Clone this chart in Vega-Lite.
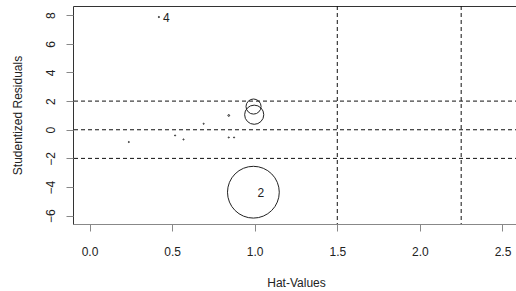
{
  "$schema": "https://vega.github.io/schema/vega-lite/v6.json",
  "width": 446,
  "height": 218,
  "autosize": "none",
  "padding": {"left": 73, "top": 6, "right": 0, "bottom": 67},
  "background": "white",
  "config": {
    "font": "Liberation Sans",
    "view": {"stroke": "#333", "strokeWidth": 1},
    "axis": {
      "grid": false,
      "labelFont": "Liberation Sans",
      "titleFont": "Liberation Sans",
      "labelFontSize": 12,
      "titleFontSize": 12,
      "titleFontWeight": "normal",
      "labelColor": "#222",
      "titleColor": "#222",
      "tickColor": "#888",
      "domainColor": "#888",
      "tickSize": 7,
      "labelOverlap": false,
      "zindex": 1
    }
  },
  "datasets": {
    "pts": [
      {"obs": "", "hat": 0.238, "rstudent": -0.857, "cookd": 0.0012},
      {"obs": "", "hat": 0.518, "rstudent": -0.397, "cookd": 0.0012},
      {"obs": "", "hat": 0.569, "rstudent": -0.676, "cookd": 0.0012},
      {"obs": "", "hat": 0.691, "rstudent": 0.418, "cookd": 0.0012},
      {"obs": "", "hat": 0.843, "rstudent": 0.997, "cookd": 0.003},
      {"obs": "", "hat": 0.843, "rstudent": -0.537, "cookd": 0.0012},
      {"obs": "", "hat": 0.875, "rstudent": -0.537, "cookd": 0.0012},
      {"obs": "4", "hat": 0.42, "rstudent": 7.87, "cookd": 0.0015},
      {"obs": "", "hat": 0.993, "rstudent": 1.62, "cookd": 0.227},
      {"obs": "", "hat": 0.997, "rstudent": 1.05, "cookd": 0.366},
      {"obs": "2", "hat": 0.992, "rstudent": -4.36, "cookd": 2.68}
    ],
    "hlines": [{"y": -2}, {"y": 0}, {"y": 2}],
    "vlines": [{"x": 1.5}, {"x": 2.25}]
  },
  "layer": [
    {
      "data": {"name": "hlines"},
      "mark": {"type": "rule", "color": "#111", "strokeDash": [4, 3], "strokeWidth": 1},
      "encoding": {"y": {"field": "y", "type": "quantitative", "scale": {"domain": [-6.58, 8.64], "nice": false, "zero": false}}}
    },
    {
      "data": {"name": "vlines"},
      "mark": {"type": "rule", "color": "#111", "strokeDash": [4, 3], "strokeWidth": 1},
      "encoding": {"x": {"field": "x", "type": "quantitative", "scale": {"domain": [-0.1, 2.6], "nice": false, "zero": false}}}
    },
    {
      "data": {"name": "pts"},
      "mark": {"type": "point", "shape": "circle", "filled": false, "stroke": "#222", "strokeWidth": 1, "opacity": 1},
      "encoding": {
        "x": {
          "field": "hat", "type": "quantitative",
          "scale": {"domain": [-0.1, 2.6], "nice": false, "zero": false},
          "axis": {"title": "Hat-Values", "values": [0, 0.5, 1, 1.5, 2, 2.5], "tickCount": 20, "format": ".1f", "labelPadding": 15, "titlePadding": 20, "domain": true, "labelOverlap": false}
        },
        "y": {
          "field": "rstudent", "type": "quantitative",
          "scale": {"domain": [-6.58, 8.64], "nice": false, "zero": false},
          "axis": {"title": "Studentized Residuals", "values": [-6, -4, -2, 0, 2, 4, 6, 8], "tickCount": 20, "labelAngle": -90, "labelAlign": "center", "labelBaseline": "bottom", "labelPadding": 9, "titlePadding": 20, "domain": false, "labelOverlap": false, "labelFlush": false, "labelBound": false}
        },
        "size": {"field": "cookd", "type": "quantitative", "scale": {"type": "linear", "domain": [0, 2.68], "range": [0, 2680], "zero": true}, "legend": null}
      }
    },
    {
      "data": {"name": "pts"},
      "mark": {"type": "text", "align": "left", "baseline": "middle", "dx": 4, "dy": 1, "fontSize": 12, "color": "#222"},
      "encoding": {
        "x": {"field": "hat", "type": "quantitative"},
        "y": {"field": "rstudent", "type": "quantitative"},
        "text": {"field": "obs"}
      }
    }
  ]
}
